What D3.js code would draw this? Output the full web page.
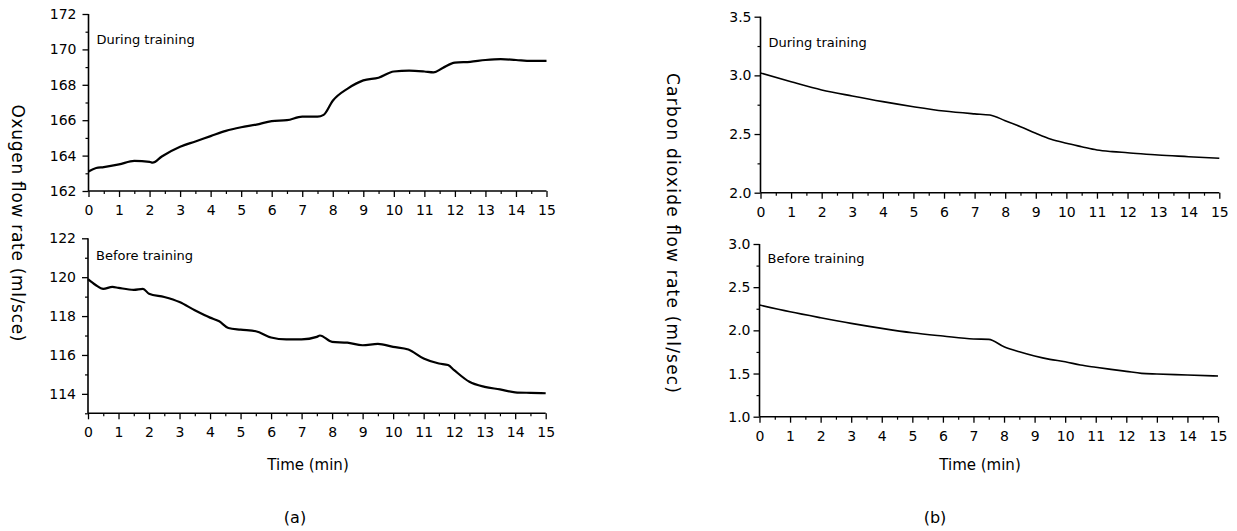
<!DOCTYPE html>
<html><head><meta charset="utf-8">
<script src="https://cdn.jsdelivr.net/npm/d3@7"></script>
<style>body{margin:0;background:#fff}svg{display:block}text{font-family:"DejaVu Sans","Open Sans",sans-serif;fill:#000}</style>
</head><body><svg id="c" width="1237" height="531"></svg>
<script>
// ---- data ----
const xTicks = [0,1,2,3,4,5,6,7,8,9,10,11,12,13,14,15];
const o2DuringT = [0,0.25,0.5,1,1.5,2,2.1,2.4,3,3.5,4,4.5,5,5.5,6,6.5,7,7.5,7.7,8,8.5,9,9.5,10,10.5,11,11.3,11.6,12,12.5,13,13.5,14,14.5,15];
const o2DuringV = [163.1,163.3,163.35,163.5,163.7,163.65,163.6,163.95,164.5,164.8,165.1,165.4,165.6,165.75,165.95,166.0,166.2,166.2,166.3,167.1,167.8,168.25,168.4,168.75,168.8,168.75,168.7,168.95,169.25,169.3,169.4,169.45,169.4,169.35,169.35];
const o2BeforeT = [0,0.25,0.5,0.8,1,1.5,1.8,2,2.5,3,3.5,4,4.3,4.6,5,5.5,6,6.5,7,7.5,7.6,8,8.5,9,9.5,10,10.5,11,11.5,11.8,12,12.5,13,13.5,14,14.5,15];
const o2BeforeV = [119.9,119.6,119.4,119.5,119.45,119.35,119.4,119.15,118.98,118.72,118.3,117.92,117.73,117.39,117.3,117.22,116.9,116.8,116.8,116.93,117.0,116.67,116.63,116.5,116.57,116.42,116.28,115.82,115.56,115.48,115.22,114.62,114.36,114.23,114.08,114.05,114.03];
const co2DuringT = [0,1,2,3,4,5,6,7,7.5,8,8.5,9,9.5,10,10.5,11,11.5,12,13,14,15];
const co2DuringV = [3.02,2.946,2.876,2.824,2.776,2.733,2.696,2.672,2.662,2.614,2.563,2.506,2.455,2.421,2.392,2.364,2.35,2.341,2.321,2.307,2.293];
const co2BeforeT = [0,1,2,3,4,5,6,7,7.5,8,8.5,9,9.5,10,10.5,11,11.5,12,12.5,13,14,15];
const co2BeforeV = [2.293,2.215,2.146,2.081,2.023,1.972,1.934,1.9,1.896,1.81,1.752,1.703,1.664,1.637,1.598,1.572,1.548,1.525,1.502,1.494,1.483,1.471];
const o2DuringYTicks = [162,164,166,168,170,172];
const o2BeforeYTicks = [114,116,118,120,122];
const co2DuringYTicks = [2.0,2.5,3.0,3.5];
const co2BeforeYTicks = [1.0,1.5,2.0,2.5,3.0];

const svg = d3.select("#c");

function panel(o){
  const x = d3.scaleLinear().domain([0,15]).range([o.x0,o.x1]);
  const y = d3.scaleLinear().domain(o.yd).range([o.y0,o.y1]);
  const g = svg.append("g");
  const minorX = d3.range(0,15,0.5).filter(v=>v%1!==0);
  g.append("g").attr("transform",`translate(0,${o.y0})`)
    .call(d3.axisBottom(x).tickValues(minorX).tickSize(3).tickFormat(""))
    .call(a=>a.select(".domain").remove())
    .selectAll("line").attr("stroke","#000").attr("stroke-width",1.2);
  const xa = g.append("g").attr("transform",`translate(0,${o.y0})`)
    .call(d3.axisBottom(x).tickValues(xTicks).tickSize(6).tickFormat(d3.format("d")));
  xa.select(".domain").attr("stroke","#000").attr("stroke-width",1.6).attr("d",`M${o.x0},0H${o.x1}`);
  xa.selectAll("line").attr("stroke","#000").attr("stroke-width",1.3);
  xa.selectAll("text").attr("font-size",14).attr("y",19).attr("dy","0.35em");
  const minorY = [];
  for(let i=0;i<o.yt.length-1;i++) minorY.push((o.yt[i]+o.yt[i+1])/2);
  if(o.extraMinor) minorY.push(...o.extraMinor);
  g.append("g").attr("transform",`translate(${o.x0},0)`)
    .call(d3.axisLeft(y).tickValues(minorY).tickSize(3).tickFormat(""))
    .call(a=>a.select(".domain").remove())
    .selectAll("line").attr("stroke","#000").attr("stroke-width",1.2);
  const ya = g.append("g").attr("transform",`translate(${o.x0},0)`)
    .call(d3.axisLeft(y).tickValues(o.yt).tickSize(6).tickPadding(o.pad).tickFormat(d3.format(o.fmt)));
  ya.select(".domain").attr("stroke","#000").attr("stroke-width",1.6).attr("d",`M0,${o.y0}V${o.y1}`);
  ya.selectAll("line").attr("stroke","#000").attr("stroke-width",1.3);
  ya.selectAll("text").attr("font-size",14);
  const line = d3.line().x(d=>x(d[0])).y(d=>y(d[1])).curve(d3.curveMonotoneX);
  g.append("path").datum(o.t.map((t,i)=>[t,o.v[i]]))
    .attr("d",line).attr("fill","none").attr("stroke","#000").attr("stroke-width",o.sw);
  g.append("text").attr("x",o.x0+8).attr("y",o.ly).attr("font-size",13).text(o.label);
}

panel({x0:88.5,x1:546.5,y0:191,y1:14,yd:[162,172],yt:o2DuringYTicks,fmt:"d",pad:6,t:o2DuringT,v:o2DuringV,sw:2.2,label:"During training",ly:44});
panel({x0:88,x1:545.7,y0:413.3,y1:238.3,yd:[113,122],yt:o2BeforeYTicks,fmt:"d",pad:6,extraMinor:[113],t:o2BeforeT,v:o2BeforeV,sw:2.2,label:"Before training",ly:260});
panel({x0:760.5,x1:1219.3,y0:192.7,y1:16.7,yd:[2.0,3.5],yt:co2DuringYTicks,fmt:".1f",pad:3,t:co2DuringT,v:co2DuringV,sw:1.6,label:"During training",ly:47});
panel({x0:759.5,x1:1218,y0:416.7,y1:244,yd:[1.0,3.0],yt:co2BeforeYTicks,fmt:".1f",pad:3,t:co2BeforeT,v:co2BeforeV,sw:1.6,label:"Before training",ly:263});

svg.append("text").attr("transform","translate(18,223) rotate(90)").attr("text-anchor","middle").attr("dy","0.35em").attr("font-size",17).attr("textLength",237).text("Oxugen flow rate (ml/sce)");
svg.append("text").attr("transform","translate(673,233) rotate(90)").attr("text-anchor","middle").attr("dy","0.35em").attr("font-size",17).attr("textLength",320).text("Carbon dioxide flow rate (ml/sec)");
svg.append("text").attr("x",308).attr("y",470).attr("text-anchor","middle").attr("font-size",15).text("Time (min)");
svg.append("text").attr("x",980).attr("y",470).attr("text-anchor","middle").attr("font-size",15).text("Time (min)");
svg.append("text").attr("x",295).attr("y",523).attr("text-anchor","middle").attr("font-size",16).text("(a)");
svg.append("text").attr("x",935).attr("y",523).attr("text-anchor","middle").attr("font-size",16).text("(b)");
</script></body></html>
